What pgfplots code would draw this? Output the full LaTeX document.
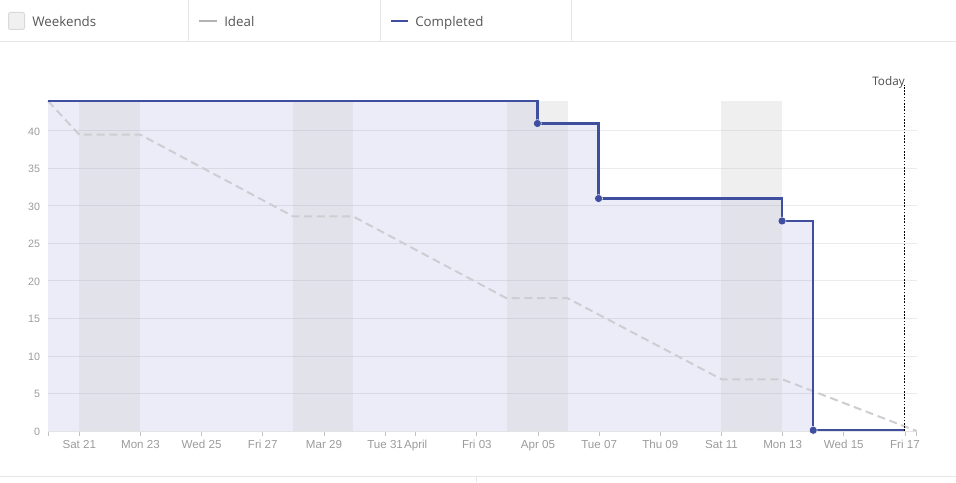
\documentclass[border=0pt]{standalone}
\usepackage{pgfplots}
\pgfplotsset{compat=1.18}
\usepackage{fontspec}
\setmainfont{Liberation Sans}
\newfontfamily\legfont{Open Sans}
\definecolor{gridc}{HTML}{E6E6E6}
\definecolor{agridc}{HTML}{EBEBEB}
\definecolor{tickc}{HTML}{9B9B9B}
\definecolor{linec}{HTML}{3F4E9F}
\definecolor{areac}{RGB}{45,45,190}
\definecolor{bandc}{RGB}{199,199,199}
\definecolor{idealc}{HTML}{CDCDD2}
\definecolor{legtext}{HTML}{555555}
\begin{document}
\begin{tikzpicture}
\path[use as bounding box] (0pt,0pt) rectangle (717pt,361.5pt);
\begin{scope}[x=0.75pt,y=-0.75pt,yshift=361.5pt]
% header / footer frame
\draw[gridc,line width=0.75pt] (0,41.5) -- (956,41.5);
\draw[gridc,line width=0.75pt] (188.5,0) -- (188.5,41.5);
\draw[gridc,line width=0.75pt] (380.5,0) -- (380.5,41.5);
\draw[gridc,line width=0.75pt] (571.5,0) -- (571.5,41.5);
\draw[gridc,line width=0.75pt] (0,476.5) -- (956,476.5);
\draw[gridc,line width=0.75pt] (476.5,476.5) -- (476.5,482);
% legend
\draw[fill=black!6,draw=black!15,rounded corners=1.5pt,line width=0.75pt] (8.5,12.5) rectangle (24.5,29.5);
\node[anchor=base west,inner sep=0pt,text=legtext,font=\legfont\fontsize{10pt}{12pt}\selectfont] at (32,26.5) {Weekends};
\draw[black!30,line width=1.5pt] (199,21) -- (217,21);
\node[anchor=base west,inner sep=0pt,text=legtext,font=\legfont\fontsize{10pt}{12pt}\selectfont] at (224,26.5) {Ideal};
\draw[linec,line width=1.5pt] (391,21) -- (408,21);
\node[anchor=base west,inner sep=0pt,text=legtext,font=\legfont\fontsize{10pt}{12pt}\selectfont] at (415,26.5) {Completed};
\end{scope}
\begin{axis}[
  at={(36pt,38.25pt)}, anchor=south west,
  scale only axis, width=651.5pt, height=247.5pt,
  xmin=-1.024, xmax=27.383, ymin=0, ymax=44,
  clip=false,
  axis x line*=bottom, axis y line*=left,
  y axis line style={draw=none},
  x axis line style={draw=gridc,-},
  ytick={0,5,10,15,20,25,30,35,40},
  xtick={-1.024,0,2,4,6,8,10,11,13,15,17,19,21,23,25,27,27.383},
  xticklabels={,Sat 21,Mon 23,Wed 25,Fri 27,Mar 29,Tue 31,April,Fri 03,Apr 05,Tue 07,Thu 09,Sat 11,Mon 13,Wed 15,Fri 17,},
  ymajorgrids, grid style={draw=agridc,line width=0.75pt},
  tick style={draw=gridc!85!black,line width=0.6pt},
  tick align=outside,
  major tick length=4pt,
  xtick pos=bottom, ytick pos=left,
  y tick style={draw=none},
  /pgf/number format/assume math mode=true,
  xticklabel style={font=\fontsize{8.7pt}{10pt}\selectfont,text=tickc,text height=6.5pt,text depth=0pt,inner sep=0pt,yshift=-2.2pt},
  yticklabel style={font=\fontsize{8pt}{10pt}\selectfont,text=tickc,xshift=1.5pt,yshift=-0.3pt},
]
% area under completed
\addplot[draw=none,fill=areac,fill opacity=0.09] coordinates {
 (-1.024,0)(-1.024,44)(14.98,44)(14.98,41)(16.98,41)(16.98,31)(22.98,31)(22.98,28)(24,28)(24,0)};
% weekends
\addplot[draw=none,fill=bandc,fill opacity=0.286] coordinates {(0,0)(0,44)(2,44)(2,0)};
\addplot[draw=none,fill=bandc,fill opacity=0.286] coordinates {(7,0)(7,44)(8.96,44)(8.96,0)};
\addplot[draw=none,fill=bandc,fill opacity=0.286] coordinates {(13.97,0)(13.97,44)(15.97,44)(15.97,0)};
\addplot[draw=none,fill=bandc,fill opacity=0.286] coordinates {(21,0)(21,44)(22.98,44)(22.98,0)};
% ideal
\addplot[idealc,line width=1.5pt,dash pattern=on 6pt off 3.5pt] coordinates {
 (-1.024,44)(0,39.5)(2,39.5)(7,28.6)(8.96,28.6)(13.97,17.7)(15.97,17.7)(21,6.9)(22.98,6.9)(27.383,0)};
% completed
\addplot[linec,line width=1.7pt] coordinates {
 (-1.024,44)(14.98,44)(14.98,41)(16.98,41)(16.98,31)(22.98,31)(22.98,28)(24,28)(24,0.1)(27,0.1)};
\addplot[only marks,mark=*,mark size=3pt,mark options={fill=linec,draw=white,line width=0.3pt}] coordinates {
 (14.98,41)(16.98,31)(22.98,28)(24,0.1)};
% today
\draw[black,line width=0.75pt,dash pattern=on 1.2pt off 1.2pt] (axis cs:27,0) -- (axis cs:27,46.1);
\node[anchor=east,inner sep=0pt,text=black!70,font=\legfont\fontsize{8.8pt}{10pt}\selectfont] at (axis cs:27,46.45) {Today};
\end{axis}
\end{tikzpicture}
\end{document}
